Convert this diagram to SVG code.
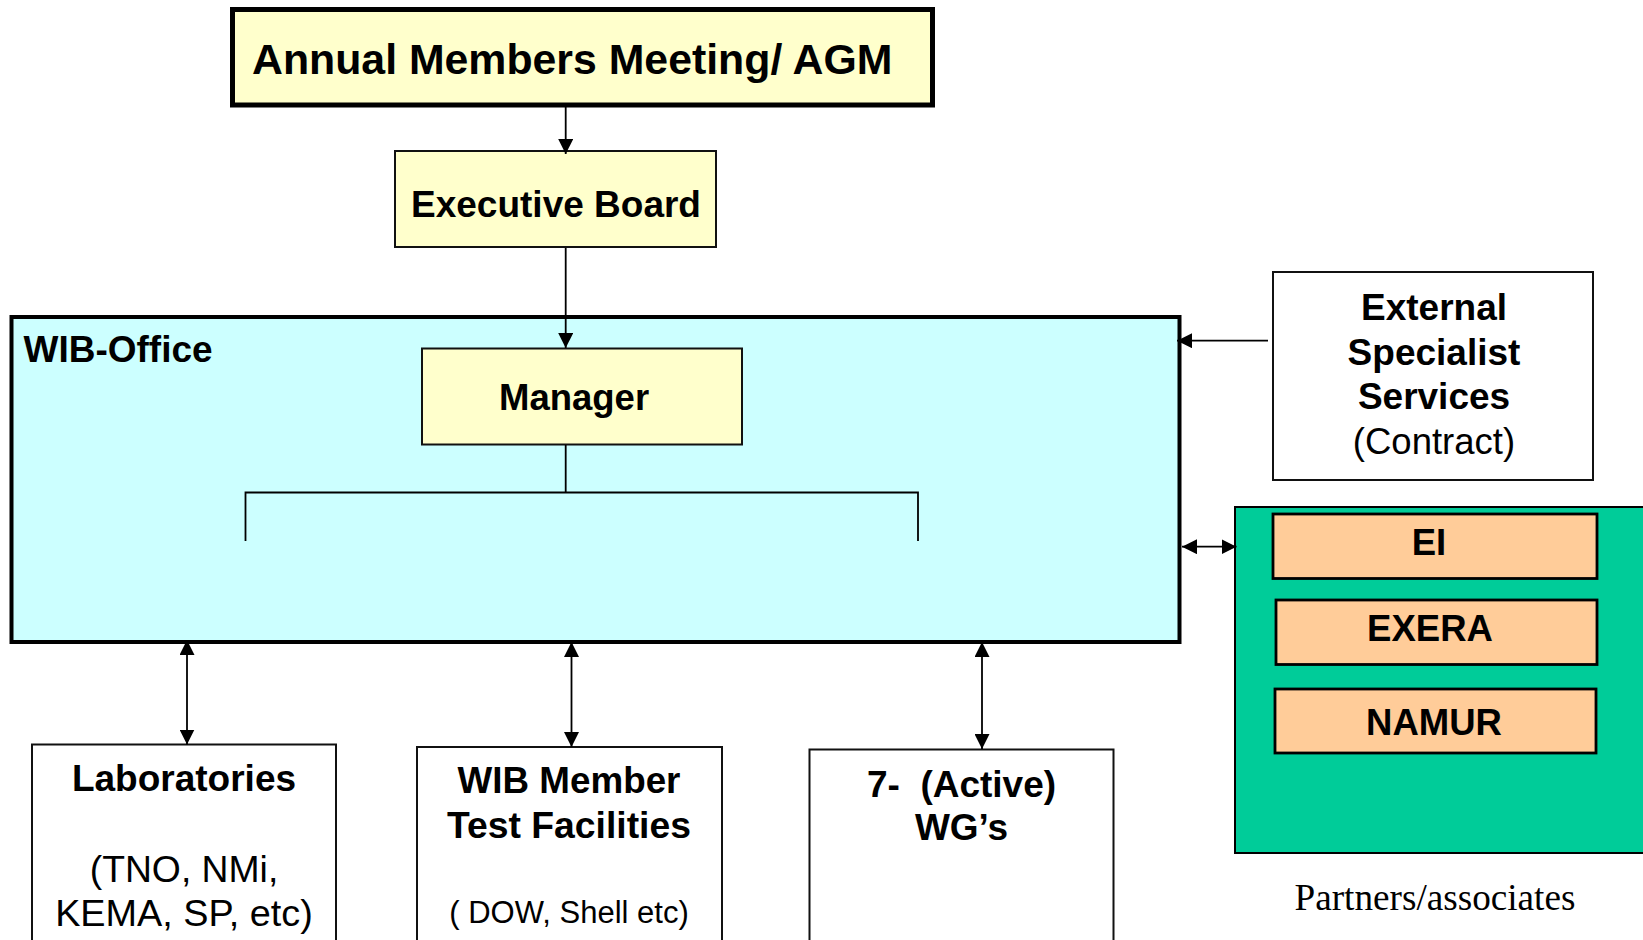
<svg xmlns="http://www.w3.org/2000/svg" width="1643" height="940" viewBox="0 0 1643 940">
<style>
.b{font-family:"Liberation Sans",Arial,sans-serif;font-weight:bold;fill:#000}
.r{font-family:"Liberation Sans",Arial,sans-serif;fill:#000}
.t{font-family:"Liberation Serif","Times New Roman",serif;fill:#000}
.m{text-anchor:middle}
.yel{fill:#FFFFCC;stroke:#111;stroke-width:2}
.wht{fill:#FFFFFF;stroke:#111;stroke-width:2}
.org{fill:#FFCC99;stroke:#000;stroke-width:2.8}
.ln{fill:none;stroke:#000;stroke-width:1.8}
</style>
<defs>
<marker id="ah" markerUnits="userSpaceOnUse" markerWidth="16" markerHeight="15" refX="15" refY="7.5" orient="auto-start-reverse" viewBox="0 0 16 15">
<path d="M0,0 L15,7.5 L0,15 z" fill="#000"/>
</marker>
</defs>
<rect width="1643" height="940" fill="#FFFFFF"/>

<g id="agm">
<rect x="232.5" y="9.5" width="700" height="95.5" fill="#FFFFCC" stroke="#000" stroke-width="5"/>
<text class="b" x="252" y="74" font-size="42.8">Annual Members Meeting/ AGM</text>
</g>

<g id="executive-board">
<rect class="yel" x="395" y="151" width="321" height="96"/>
<text class="b m" x="556" y="217" font-size="37">Executive Board</text>
</g>

<g id="wib-office">
<rect x="11.5" y="317" width="1168" height="325" fill="#CCFFFF" stroke="#000" stroke-width="4"/>
<text class="b" x="23.5" y="361.5" font-size="37">WIB-Office</text>
</g>

<g id="manager">
<rect class="yel" x="422" y="348.5" width="320" height="96"/>
<text class="b" x="499" y="410" font-size="36.5">Manager</text>
</g>

<g id="external">
<rect class="wht" x="1273" y="272" width="320" height="208"/>
<text class="b m" x="1434" y="320" font-size="37">External</text>
<text class="b m" x="1434" y="365" font-size="37">Specialist</text>
<text class="b m" x="1434" y="409" font-size="37">Services</text>
<text class="r m" x="1434" y="454" font-size="36.5">(Contract)</text>
</g>

<g id="partners">
<rect x="1235" y="507" width="430" height="346" fill="#00CC99" stroke="#000" stroke-width="2"/>
<text class="t m" x="1435" y="910" font-size="37.2">Partners/associates</text>
</g>

<g id="ei">
<rect class="org" x="1273" y="514" width="324" height="64.5"/>
<text class="b m" x="1429" y="555" font-size="36.5">EI</text>
</g>

<g id="exera">
<rect class="org" x="1276" y="600" width="321" height="64.5"/>
<text class="b m" x="1430" y="641" font-size="36.5">EXERA</text>
</g>

<g id="namur">
<rect class="org" x="1275" y="689" width="321" height="64"/>
<text class="b m" x="1434" y="735" font-size="36.5">NAMUR</text>
</g>

<g id="laboratories">
<rect class="wht" x="32" y="744.5" width="304" height="230"/>
<text class="b m" x="184" y="791" font-size="37">Laboratories</text>
<text class="r m" x="184" y="882" font-size="37.3">(TNO, NMi,</text>
<text class="r m" x="184" y="926" font-size="37.8">KEMA, SP, etc)</text>
</g>

<g id="member-test-facilities">
<rect class="wht" x="417" y="747" width="305" height="230"/>
<text class="b m" x="569" y="793" font-size="36.8">WIB Member</text>
<text class="b m" x="569" y="838" font-size="37.3">Test Facilities</text>
<text class="r m" x="569" y="923" font-size="31">( DOW, Shell etc)</text>
</g>

<g id="working-groups">
<rect class="wht" x="809.5" y="749.5" width="304" height="230"/>
<text class="b m" x="961.5" y="796.5" font-size="37" xml:space="preserve">7-  (Active)</text>
<text class="b m" x="961.5" y="840" font-size="37">WG’s</text>
</g>

<g id="connectors">
<line class="ln" x1="565.7" y1="107" x2="565.7" y2="154" marker-end="url(#ah)"/>
<line class="ln" x1="565.7" y1="248" x2="565.7" y2="348" marker-end="url(#ah)"/>
<path class="ln" d="M565.7 445 V492.5 M245.5 541 V492.5 H918 V541"/>
<line class="ln" x1="1268" y1="340.7" x2="1177" y2="340.7" marker-end="url(#ah)"/>
<line class="ln" x1="1182" y1="546.7" x2="1236.5" y2="546.7" marker-start="url(#ah)" marker-end="url(#ah)"/>
<line class="ln" x1="187" y1="640" x2="187" y2="744.5" marker-start="url(#ah)" marker-end="url(#ah)"/>
<line class="ln" x1="571.5" y1="642" x2="571.5" y2="747" marker-start="url(#ah)" marker-end="url(#ah)"/>
<line class="ln" x1="982" y1="642" x2="982" y2="749" marker-start="url(#ah)" marker-end="url(#ah)"/>
</g>
</svg>
